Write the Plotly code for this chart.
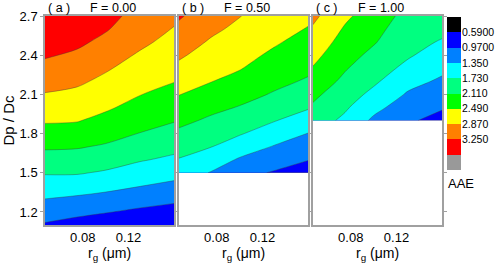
import plotly.graph_objects as go

# ---------------- data ----------------
RG = [0.047, 0.075, 0.10, 0.13, 0.16]          # r_g (um) grid columns

DPDC_A = [1.1, 1.2, 1.3, 1.4, 1.5, 1.6, 1.7, 1.8, 1.9, 2.0, 2.1, 2.2, 2.3, 2.4, 2.5, 2.6, 2.7]
Z_A = [
    [0.93, 0.83, 0.75, 0.68, 0.60],
    [1.14, 1.06, 0.99, 0.90, 0.82],
    [1.35, 1.29, 1.23, 1.13, 1.05],
    [1.56, 1.53, 1.46, 1.36, 1.27],
    [1.76, 1.76, 1.69, 1.56, 1.47],
    [1.96, 1.95, 1.89, 1.76, 1.66],
    [2.16, 2.14, 2.07, 1.93, 1.83],
    [2.35, 2.33, 2.24, 2.10, 1.98],
    [2.53, 2.51, 2.39, 2.23, 2.13],
    [2.69, 2.65, 2.54, 2.37, 2.26],
    [2.85, 2.79, 2.66, 2.50, 2.38],
    [3.00, 2.93, 2.79, 2.61, 2.50],
    [3.14, 3.06, 2.91, 2.72, 2.59],
    [3.29, 3.19, 3.02, 2.83, 2.67],
    [3.40, 3.32, 3.16, 2.94, 2.76],
    [3.48, 3.45, 3.28, 3.04, 2.85],
    [3.55, 3.55, 3.36, 3.13, 2.94],
]

DPDC_B = [1.5, 1.6, 1.7, 1.8, 1.9, 2.0, 2.1, 2.2, 2.3, 2.4, 2.5, 2.6, 2.7]
Z_B = [
    [1.54, 1.33, 1.08, 0.94, 0.80],
    [1.71, 1.54, 1.31, 1.13, 0.98],
    [1.88, 1.74, 1.54, 1.33, 1.16],
    [2.04, 1.90, 1.76, 1.54, 1.34],
    [2.20, 2.05, 1.92, 1.75, 1.56],
    [2.35, 2.20, 2.09, 1.92, 1.76],
    [2.50, 2.35, 2.23, 2.08, 1.91],
    [2.64, 2.50, 2.38, 2.20, 2.07],
    [2.79, 2.61, 2.51, 2.31, 2.18],
    [2.92, 2.72, 2.60, 2.43, 2.28],
    [3.04, 2.83, 2.70, 2.53, 2.37],
    [3.17, 2.94, 2.79, 2.62, 2.47],
    [3.29, 3.05, 2.88, 2.71, 2.56],
]

DPDC_C = [1.9, 2.0, 2.1, 2.2, 2.3, 2.4, 2.5, 2.6, 2.7]
Z_C = [
    [1.92, 1.65, 1.28, 1.02, 0.85],
    [2.06, 1.78, 1.46, 1.15, 1.00],
    [2.19, 1.90, 1.64, 1.31, 1.14],
    [2.33, 2.03, 1.79, 1.47, 1.29],
    [2.47, 2.14, 1.90, 1.64, 1.43],
    [2.59, 2.25, 2.02, 1.77, 1.56],
    [2.71, 2.35, 2.14, 1.84, 1.70],
    [2.83, 2.45, 2.22, 1.92, 1.81],
    [2.95, 2.56, 2.30, 2.00, 1.91],
]

LEVELS = [0.59, 0.97, 1.35, 1.73, 2.11, 2.49, 2.87, 3.25, 3.63]
LEVEL_LABELS = ["0.5900", "0.9700", "1.350", "1.730", "2.110", "2.490", "2.870", "3.250"]
BAND_COLORS = ["#000000", "#0000ff", "#0080ff", "#00ffff", "#00ff80",
               "#00ff00", "#ffff00", "#ff8000", "#ff0000", "#999999"]
PANEL_TAGS = ["( a )", "( b )", "( c )"]
F_VALUES = ["F = 0.00", "F = 0.50", "F = 1.00"]
X_TICKS = [0.08, 0.12]
X_TICK_TEXT = ["0.08", "0.12"]
Y_TICKS = [1.2, 1.5, 1.8, 2.1, 2.4, 2.7]
Y_TICK_TEXT = ["1.2", "1.5", "1.8", "2.1", "2.4", "2.7"]

# ---------------- figure ----------------
W, H = 500, 265
FONT = "Arial, Liberation Sans, sans-serif"
FRAME = "#a0a0a0"

step = round(LEVELS[1] - LEVELS[0], 4)
n_bands = len(BAND_COLORS)
colorscale = [[i / (n_bands - 1), c] for i, c in enumerate(BAND_COLORS)]

def px_x(p):
    return p / W

def px_y(p):
    return 1 - p / H

panel_px = [(45, 174.3), (179, 308.3), (313, 442.3)]
y_dom = [px_y(225), px_y(16)]

fig = go.Figure()
datasets = [(DPDC_A, Z_A), (DPDC_B, Z_B), (DPDC_C, Z_C)]
for i, (yy, zz) in enumerate(datasets):
    sfx = "" if i == 0 else str(i + 1)
    fig.add_trace(go.Contour(
        x=RG, y=yy, z=zz,
        xaxis="x" + sfx, yaxis="y" + sfx,
        autocontour=False,
        contours=dict(start=LEVELS[0], end=LEVELS[-1], size=step,
                      coloring="fill", showlines=True),
        line=dict(width=0.6, color="rgba(60,60,60,0.65)"),
        colorscale=colorscale, showscale=False, hoverinfo="skip",
    ))

# colour key drawn as a heatmap of the contour bands
edges = [LEVELS[0] - step] + LEVELS + [LEVELS[-1] + step]
centers = [(edges[k] + edges[k + 1]) / 2 for k in range(len(edges) - 1)]
fig.add_trace(go.Heatmap(
    x=[0, 1], y=edges, z=[[c] for c in centers],
    zmin=centers[0], zmax=centers[-1],
    colorscale=colorscale, showscale=False, hoverinfo="skip",
    xaxis="x4", yaxis="y4",
))

layout = dict(
    width=W, height=H,
    margin=dict(l=0, r=0, t=0, b=0),
    paper_bgcolor="white", plot_bgcolor="white",
    font=dict(family=FONT, size=13, color="black"),
    showlegend=False,
)

for i, (x0, x1) in enumerate(panel_px):
    sfx = "" if i == 0 else str(i + 1)
    layout["xaxis" + sfx] = dict(
        domain=[px_x(x0), px_x(x1)], range=[RG[0], RG[-1]],
        anchor="y" + sfx, tickvals=X_TICKS, ticktext=X_TICK_TEXT,
        ticks="", showline=True, mirror=True, linecolor=FRAME, linewidth=1.5,
        showgrid=False, zeroline=False, tickfont=dict(size=13),
        title=dict(text="r<sub>g</sub> (μm)", font=dict(size=14), standoff=0),
        automargin=False,
    )
    layout["yaxis" + sfx] = dict(
        domain=y_dom, range=[1.1, 2.7], anchor="x" + sfx,
        tickvals=Y_TICKS, ticktext=Y_TICK_TEXT,
        ticks="outside", ticklen=3, tickcolor=FRAME, tickwidth=1,
        showline=True, mirror="ticks", linecolor=FRAME, linewidth=1.5,
        showgrid=False, zeroline=False, showticklabels=(i == 0),
        tickfont=dict(size=13), automargin=False,
    )
    if i == 0:
        layout["yaxis"]["title"] = dict(text="Dp / Dc", font=dict(size=15), standoff=4)
    else:
        layout["yaxis" + sfx]["matches"] = "y"

layout["xaxis4"] = dict(domain=[px_x(447), px_x(461)], range=[0, 1], anchor="y4",
                        visible=False, fixedrange=True)
layout["yaxis4"] = dict(domain=[px_y(170), px_y(17)], range=[edges[-1], edges[0]],
                        anchor="x4", side="right", tickvals=LEVELS[:-1],
                        ticktext=LEVEL_LABELS, ticks="", showline=False,
                        showgrid=False, zeroline=False, tickfont=dict(size=10.5),
                        automargin=False)

annotations = []
for i, (x0, x1) in enumerate(panel_px):
    annotations.append(dict(text=PANEL_TAGS[i], x=px_x(x0 + 1), y=px_y(8),
                            xref="paper", yref="paper", xanchor="left", yanchor="middle",
                            showarrow=False, font=dict(size=12.5)))
    annotations.append(dict(text=F_VALUES[i], x=px_x((x0 + x1) / 2 + 3), y=px_y(8),
                            xref="paper", yref="paper", xanchor="center", yanchor="middle",
                            showarrow=False, font=dict(size=12.5)))
annotations.append(dict(text="AAE", x=px_x(446), y=px_y(183), xref="paper", yref="paper",
                        xanchor="left", yanchor="middle", showarrow=False,
                        font=dict(size=13)))
layout["annotations"] = annotations

fig.update_layout(**layout)
fig.write_html("out.html", config={"displayModeBar": False},
               post_script="document.body.style.margin='0px';document.body.style.overflow='hidden';")
